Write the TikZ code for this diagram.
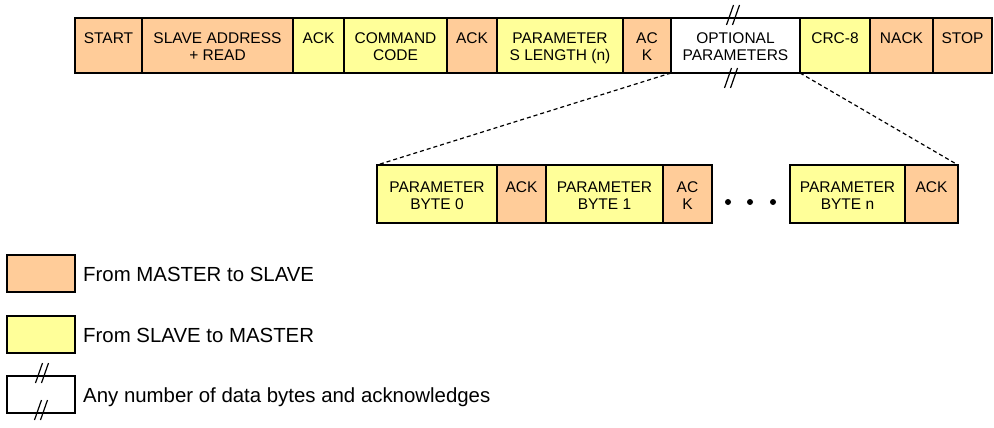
\documentclass[tikz,border=0pt]{standalone}
\usepackage{fontspec}
\setmainfont{Liberation Sans}
\definecolor{mtos}{HTML}{FFCC99}
\definecolor{stom}{HTML}{FFFF99}

\tikzset{
  cellbox/.style={draw=black, line width=2pt, inner sep=0pt, outer sep=0pt, rectangle},
  celltext/.style={anchor=base, inner sep=0pt, font=\fontsize{15.5}{17}\selectfont},
  keybox/.style={draw=black, line width=1.3pt, inner sep=0pt, outer sep=0pt, rectangle,
                 minimum width=68pt, minimum height=37pt},
  keytext/.style={anchor=base west, inner sep=0pt, font=\fontsize{20.4}{24}\selectfont},
  zoomline/.style={line width=1.2pt, dash pattern=on 4pt off 3pt},
  ellipsisdot/.style={circle, fill=black, inner sep=0pt, minimum size=6pt},
  brk/.pic={\draw[line width=1.2pt] (-6.5,10) -- (0.5,-10) (-0.5,10) -- (6.5,-10);}
}

% \pktbox{name}{x1}{x2}{y1}{y2}{fill}{first line}{second line}
\newcommand\pktbox[8]{%
  \node[cellbox, fill=#6, minimum width={#3-#2}, minimum height={#5-#4}]
    (#1) at ({(#2+#3)/2},{(#4+#5)/2}) {};
  \node[celltext] (#1-a) at ([yshift=1.5pt]#1.center) {#7};
  \node[celltext] (#1-b) at ([yshift=-15.5pt]#1.center) {#8};
}

\begin{document}
\begin{tikzpicture}[x=1pt, y=-1pt]
  \useasboundingbox (0,0) rectangle (994,428);

  % read frame
  \pktbox{opt}{671}{800}{18}{73}{white}{OPTIONAL}{PARAMETERS}
  \pktbox{start}{75}{142}{18}{73}{mtos}{START}{}
  \pktbox{addr}{142}{293}{18}{73}{mtos}{SLAVE ADDRESS}{+ READ}
  \pktbox{ack1}{293}{344}{18}{73}{stom}{ACK}{}
  \pktbox{cmd}{344}{447}{18}{73}{stom}{COMMAND}{CODE}
  \pktbox{ack2}{447}{497}{18}{73}{mtos}{ACK}{}
  \pktbox{len}{497}{623}{18}{73}{stom}{PARAMETER}{S LENGTH (n)}
  \pktbox{ack3}{623}{671}{18}{73}{mtos}{AC}{K}
  \pktbox{crc}{800}{870}{18}{73}{stom}{CRC-8}{}
  \pktbox{nack}{870}{933}{18}{73}{mtos}{NACK}{}
  \pktbox{stop}{933}{992}{18}{73}{mtos}{STOP}{}

  \pic at (733,15) {brk};
  \pic at (731,78) {brk};

  % expanded optional parameters
  \pktbox{pb0}{377}{497}{165}{223}{stom}{PARAMETER}{BYTE 0}
  \pktbox{pa0}{497}{546}{165}{223}{mtos}{ACK}{}
  \pktbox{pb1}{546}{663}{165}{223}{stom}{PARAMETER}{BYTE 1}
  \pktbox{pa1}{663}{712}{165}{223}{mtos}{AC}{K}
  \pktbox{pbn}{790}{905}{165}{223}{stom}{PARAMETER}{BYTE n}
  \pktbox{pan}{905}{958}{165}{223}{mtos}{ACK}{}

  \node[ellipsisdot] (dot1) at (728,202) {};
  \node[ellipsisdot] (dot2) at (750,202) {};
  \node[ellipsisdot] (dot3) at (773,202) {};

  \draw[zoomline] (opt.south west) -- (pb0.north west);
  \draw[zoomline] (opt.south east) -- (pan.north east);

  % key
  \node[keybox, fill=mtos] (key1) at (41,273.5) {};
  \node[keybox, fill=stom] (key2) at (41,334.5) {};
  \node[keybox, fill=white] (key3) at (41,394.5) {};
  \pic at (42,373) {brk};
  \pic at (41,410) {brk};

  \node[keytext] (key1t) at (83,281.5) {From MASTER to SLAVE};
  \node[keytext] (key2t) at (83,342.5) {From SLAVE to MASTER};
  \node[keytext] (key3t) at (83,402.5) {Any number of data bytes and acknowledges};
\end{tikzpicture}
\end{document}
